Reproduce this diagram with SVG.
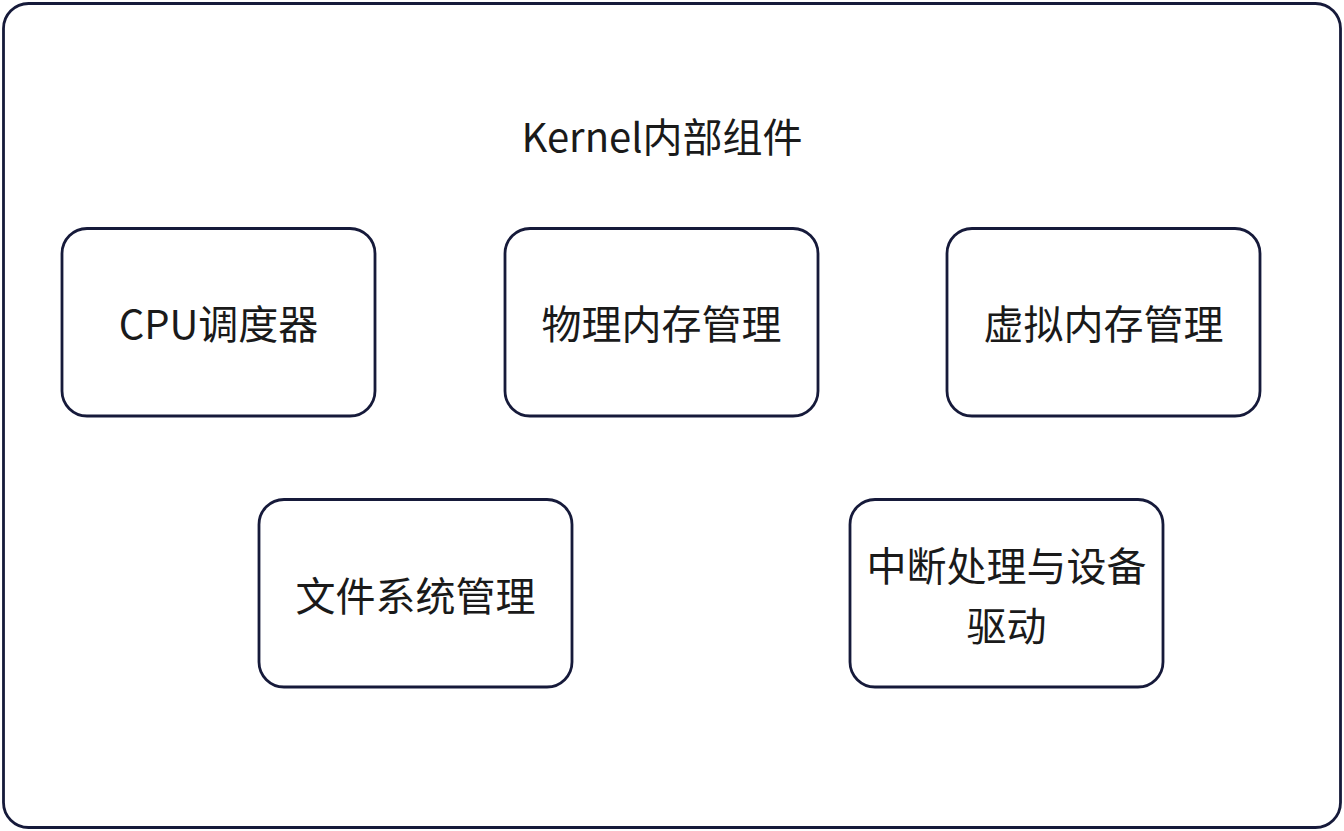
<svg xmlns="http://www.w3.org/2000/svg" width="1344" height="831" viewBox="0 0 1344 831">
<style>
.box{fill:#ffffff;stroke:#161a3a;stroke-width:2.8}
.t{font-family:"Noto Sans CJK SC","Noto Sans",sans-serif;font-size:40px;fill:#1a1a1a;text-anchor:middle;dominant-baseline:central}
</style>
<rect width="1344" height="831" fill="#ffffff"/>
<g id="kernel">
<rect class="box" x="3.5" y="3.5" width="1337" height="824" rx="25"/>
<text class="t" x="662" y="135">Kernel内部组件</text>
</g>
<g id="cpu">
<rect class="box" x="62" y="228.5" width="313" height="187.5" rx="25"/>
<text class="t" x="218.5" y="322">CPU调度器</text>
</g>
<g id="pmm">
<rect class="box" x="505" y="228.5" width="313" height="187.5" rx="25"/>
<text class="t" x="661.5" y="322">物理内存管理</text>
</g>
<g id="vmm">
<rect class="box" x="947" y="228.5" width="313" height="187.5" rx="25"/>
<text class="t" x="1103.5" y="322">虚拟内存管理</text>
</g>
<g id="fs">
<rect class="box" x="259" y="499.5" width="313" height="187.5" rx="25"/>
<text class="t" x="415.5" y="594">文件系统管理</text>
</g>
<g id="irq">
<rect class="box" x="850" y="499.5" width="313" height="187.5" rx="25"/>
<text class="t" x="1006.5" y="564">中断处理与设备</text>
<text class="t" x="1006.5" y="624">驱动</text>
</g>
<g id="connectors"></g>
</svg>
